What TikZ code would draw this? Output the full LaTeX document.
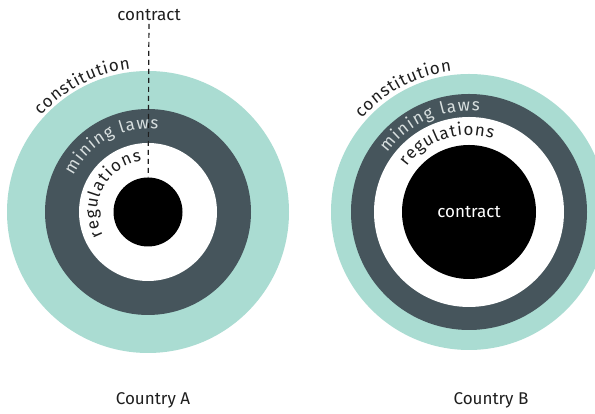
\documentclass[tikz,border=0pt]{standalone}
\usepackage{fontspec}
\setmainfont{Fira Sans}
\usetikzlibrary{calc,decorations.text}

\definecolor{constcol}{HTML}{AADCD2}
\definecolor{lawcol}{HTML}{46555C}
\definecolor{inkcol}{HTML}{1E1E1E}
\definecolor{paper}{HTML}{D8DFDF}

\newcommand{\lblfont}{\fontsize{17}{17}\selectfont}

\begin{document}
\begin{tikzpicture}[x=1pt, y=1pt, %
    disk/.style={circle, inner sep=0pt, outer sep=0pt}, %
    lbl/.style={font=\lblfont, text=inkcol, inner sep=3pt}, %
    arctext/.style={decorate, decoration={text along path, text align=fit to path}}, %
    dashln/.style={inkcol, line width=1.2pt, dash pattern=on 5pt off 4pt}, %
    ]
    \useasboundingbox[fill=white] (0,0) rectangle (595,414);

    % rings: constitution / mining laws / regulations / contract
    \foreach \c/\x/\rc/\rm/\rr/\rk in { %
      A/148/141/103/69/34.5,%
      B/469/138/118/95/67%
    }{ %
      \node[disk, fill=constcol, minimum size=2*\rc] (const\c) at (\x,202) {};
      \node[disk, fill=lawcol, minimum size=2*\rm] (laws\c) at (\x,202) {};
      \node[disk, fill=white, minimum size=2*\rr] (regs\c) at (\x,202) {};
      \node[disk, fill=black, minimum size=2*\rk] (core\c) at (\x,202) {};
    }

    % country A: contract sits outside
    \node[lbl] (linkA) at (149,399) {contract};
    \draw[dashln] (linkA) -- (coreA);

    % country B: contract fills the centre
    \node[lbl, text=white] (termB) at (coreB) {contract};

    \path[arctext, decoration={text={|\lblfont\color{inkcol}|constitution}}] ($(coreA)+(138:144)$) arc[start angle=138, end angle=97, radius=144];
    \path[arctext, decoration={text={|\lblfont\color{paper}|mining laws}}] ($(coreA)+(154:83)$) arc[start angle=154, end angle=83, radius=83];
    \path[arctext, decoration={text={|\lblfont\color{inkcol}|regulations}}] ($(coreA)+(208:51)$) arc[start angle=208, end angle=97, radius=51];

    \path[arctext, decoration={text={|\lblfont\color{inkcol}|constitution}}] ($(coreB)+(139:142)$) arc[start angle=139, end angle=97, radius=142];
    \path[arctext, decoration={text={|\lblfont\color{paper}|mining laws}}] ($(coreB)+(144:101)$) arc[start angle=144, end angle=84, radius=101];
    \path[arctext, decoration={text={|\lblfont\color{inkcol}|regulations}}] ($(coreB)+(144:77)$) arc[start angle=144, end angle=72, radius=77];

    \node[lbl] (nameA) at (153,14) {Country A};
    \node[lbl] (nameB) at (491,14) {Country B};
  \end{tikzpicture}
\end{document}
